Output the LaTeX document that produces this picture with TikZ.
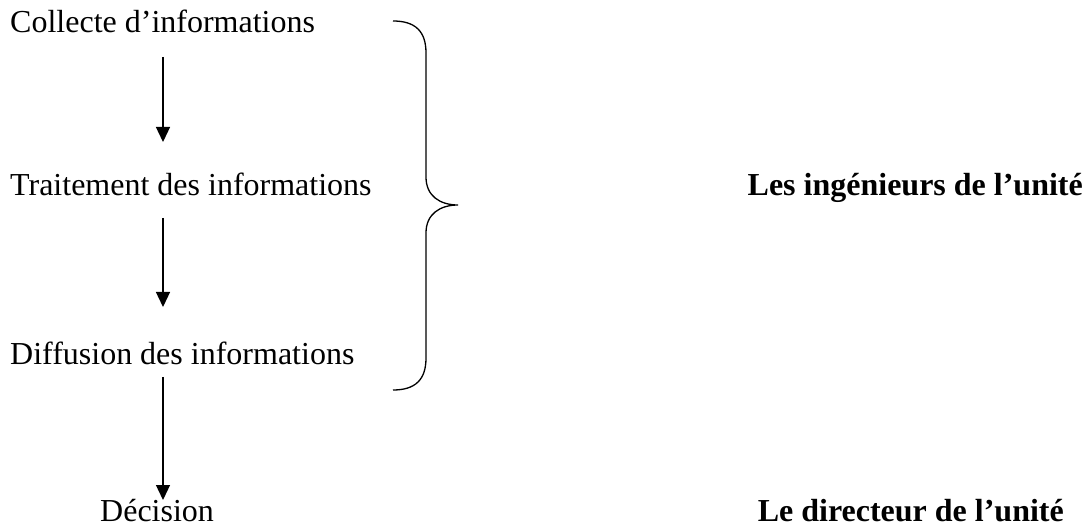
\documentclass[tikz,border=0pt]{standalone}
\usepackage{fontspec}
\setmainfont{Liberation Serif}
\usetikzlibrary{arrows.meta}
\begin{document}
\begin{tikzpicture}[x=1pt,y=-1pt,
  step label/.style={anchor=base west,inner sep=0pt,font=\fontsize{32}{38}\selectfont},
  role label/.style={anchor=base east,inner sep=0pt,font=\fontsize{32}{38}\selectfont\bfseries},
  flow/.style={line width=1.3pt,-{Triangle[length=15pt,width=14pt]}},
  brace line/.style={line width=1.3pt}]
  \path[use as bounding box] (0,0) rectangle (1087,526);

  % steps of the process
  \node[step label] (coll) at (10,33) {Collecte d’informations};
  \node[step label] (trait) at (10,196) {Traitement des informations};
  \node[step label] (diff) at (10,365) {Diffusion des informations};
  \node[step label] (dec) at (100,521) {Décision};

  % who is in charge
  \node[role label] (ing) at (1083,196) {Les ingénieurs de l’unité};
  \node[role label] (dir) at (1064,521) {Le directeur de l’unité};

  % arrow ends between the steps
  \coordinate (a1s) at (163,57);  \coordinate (a1e) at (163,142);
  \coordinate (a2s) at (163,218); \coordinate (a2e) at (163,307);
  \coordinate (a3s) at (163,377); \coordinate (a3e) at (163,500);
  \draw[flow] (a1s) -- (a1e);
  \draw[flow] (a2s) -- (a2e);
  \draw[flow] (a3s) -- (a3e);

  % right brace grouping the first three steps
  \draw[brace line] (393,21) .. controls (415,21) and (426,31) .. (426,53)
    -- (426,177) .. controls (426,196) and (440,205) .. (458,205)
    .. controls (440,205) and (426,214) .. (426,233)
    -- (426,358) .. controls (426,380) and (415,390) .. (393,390);
\end{tikzpicture}
\end{document}
